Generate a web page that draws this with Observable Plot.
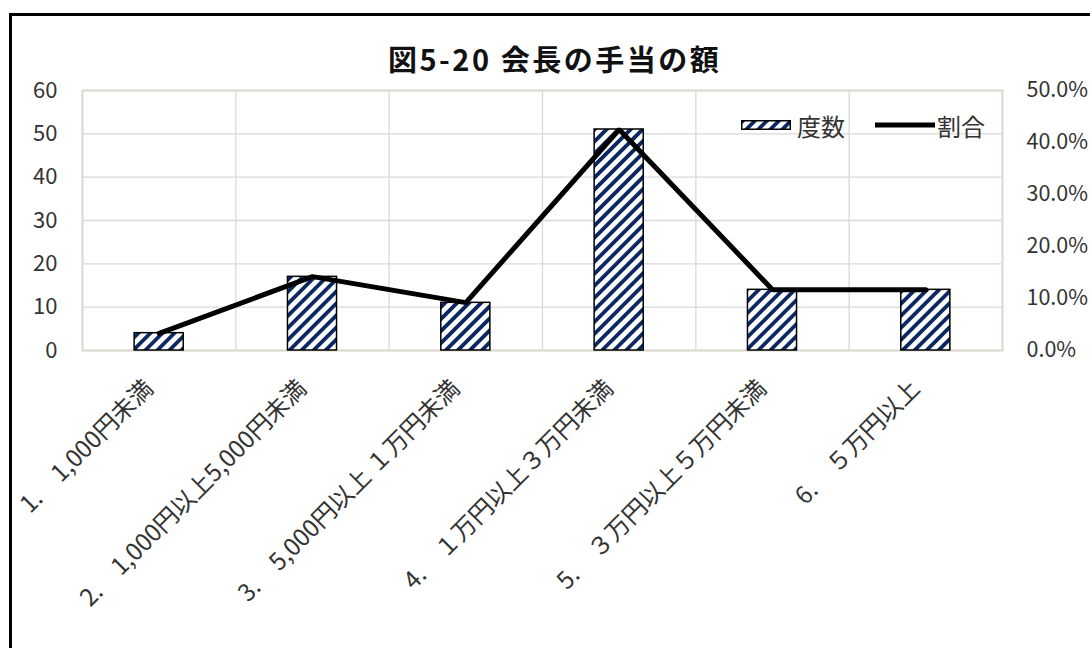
<!DOCTYPE html>
<html><head><meta charset="utf-8">
<script src="https://cdn.jsdelivr.net/npm/d3@7"></script>
<script src="https://cdn.jsdelivr.net/npm/@observablehq/plot@0.6"></script>
<style>
body{margin:0;background:#fff;font-family:"Noto Sans CJK JP","Noto Sans",sans-serif;}
#wrap{position:relative;width:1090px;height:648px;overflow:hidden;background:#fff;}
#border{position:absolute;left:9px;top:13px;width:2000px;height:2000px;border-left:3px solid #000;border-top:3px solid #000;}
#title{position:absolute;left:388px;top:42px;white-space:nowrap;font-size:29px;line-height:32px;font-weight:bold;color:#111;letter-spacing:2.5px;}
#chart{position:absolute;left:0;top:0;}
#legend{position:absolute;left:741px;top:109px;height:32px;display:flex;align-items:center;font-size:24px;color:#333;}
#legend .sw{display:inline-block;}
</style></head>
<body>
<div id="wrap">
<div id="border"></div>
<div id="chart"></div>
<div id="title">図5-20 会長の手当の額</div>
<div id="legend"></div>
</div>
<script>
const categories = ["1.\u30001,000円未満", "2.\u30001,000円以上5,000円未満", "3.\u30005,000円以上 １万円未満", "4.\u3000１万円以上３万円未満", "5.\u3000３万円以上５万円未満", "6.\u3000５万円以上"];
const counts = [4, 17, 11, 51, 14, 14];
const ratios = [3.3, 14.2, 9.2, 42.5, 11.7, 11.7];
const countTicks = [0, 10, 20, 30, 40, 50, 60];
const ratioTicks = [0, 10, 20, 30, 40, 50];
const seriesNames = ["度数", "割合"];

const ratioToCount = 60 / 50;
const data = categories.map((c, i) => ({i, c, count: counts[i], ratio: ratios[i]}));
const idx = d3.range(categories.length);
const barHalf = 0.16;

const gridColor = "#d9d9d9";
const frameColor = "#dcd9cf";
const textColor = "#333";

const plot = Plot.plot({
  width: 1090, height: 648,
  marginTop: 90, marginBottom: 298, marginLeft: 82, marginRight: 88,
  style: {fontFamily: '"Noto Sans CJK JP","Noto Sans",sans-serif', color: textColor, background: "transparent"},
  x: {type: "linear", domain: [-0.5, categories.length - 0.5]},
  y: {domain: [0, 60]},
  marks: [
    Plot.ruleY(countTicks, {stroke: gridColor, strokeWidth: 1.3}),
    Plot.ruleX(d3.range(categories.length + 1), {x: d => d - 0.5, stroke: gridColor, strokeWidth: 1.3}),
    Plot.frame({stroke: frameColor, strokeWidth: 2}),
    Plot.rectY(data, {x1: d => d.i - barHalf, x2: d => d.i + barHalf, y: "count", fill: "url(#hatch)", stroke: "#000", strokeWidth: 1.5}),
    Plot.line(data, {x: "i", y: d => d.ratio * ratioToCount, stroke: "#000", strokeWidth: 5, strokeLinejoin: "miter"}),
    Plot.axisY({anchor: "left", ticks: countTicks, tickSize: 0, tickPadding: 25, fontSize: 22, label: null}),
    Plot.axisY({anchor: "right", ticks: ratioTicks.map(v => v * ratioToCount), tickFormat: v => (v / ratioToCount).toFixed(1) + "%", tickSize: 0, tickPadding: 24, fontSize: 21.5, label: null}),
    Plot.axisX({ticks: idx, tickFormat: i => categories[i], tickRotate: -45, tickSize: 0, tickPadding: 34, dx: -10, fontSize: 24, label: null})
  ]
});

const ns = "http://www.w3.org/2000/svg";
function addHatch(svg) {
  const defs = document.createElementNS(ns, "defs");
  defs.innerHTML = '<pattern id="hatch" patternUnits="userSpaceOnUse" width="8.5" height="8.5" patternTransform="rotate(45)"><rect width="8.5" height="8.5" fill="#fff"/><rect x="0" y="0" width="3.8" height="8.5" fill="#0c2862"/></pattern>';
  svg.insertBefore(defs, svg.firstChild);
}
addHatch(plot);
document.getElementById("chart").appendChild(plot);

const legend = document.getElementById("legend");
legend.innerHTML =
  '<svg class="sw" width="50" height="10"><rect x="0.75" y="0.75" width="48.5" height="8.5" fill="url(#hatch)" stroke="#000" stroke-width="1.5"/></svg>' +
  '<span style="margin-left:6px">' + seriesNames[0] + '</span>' +
  '<svg class="sw" width="60" height="10" style="margin-left:30px"><line x1="0" x2="60" y1="5" y2="5" stroke="#000" stroke-width="5"/></svg>' +
  '<span style="margin-left:2px">' + seriesNames[1] + '</span>';
</script>
</body></html>
